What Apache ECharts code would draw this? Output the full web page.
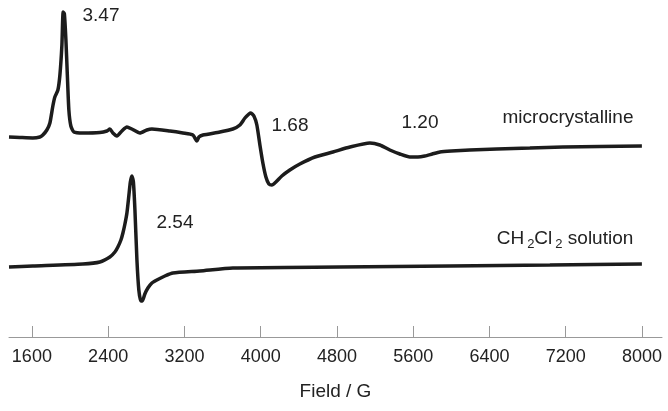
<!DOCTYPE html>
<html>
<head>
<meta charset="utf-8">
<script src="https://cdn.jsdelivr.net/npm/echarts@6/dist/echarts.min.js"></script>
<style>
  html, body { margin: 0; padding: 0; background: #fff; }
  #main { width: 668px; height: 411px; }
</style>
</head>
<body>
<div id="main"></div>
<script>
// field (G) and signal height (arbitrary units above the axis)
var microField = [1360, 1474, 1610, 1684, 1715, 1757, 1789, 1820, 1841, 1873, 1894, 1915, 1928, 1941, 1957, 1972, 1988, 2009, 2041, 2135,
  2313, 2387, 2418, 2450, 2492, 2544, 2597, 2649, 2733, 2806, 2859, 3048, 3184, 3289, 3331, 3352, 3394, 3572, 3708, 3782,
  3835, 3877, 3897, 3929, 3960, 3992, 4023, 4055, 4086, 4118, 4160, 4222, 4306, 4411, 4569, 4758, 4936, 5146, 5250, 5355,
  5460, 5565, 5650, 5722, 5800, 5880, 6000, 6194, 6478, 6824, 7170, 7558, 7999];
var microSignal = [200, 199.5, 199, 200, 202, 207, 214, 231, 240, 247, 262, 292, 325, 323, 297, 262, 227, 211, 205, 204,
  204.5, 206, 208, 204, 201, 206, 210, 208, 204, 207, 208, 206, 204, 202, 196, 200, 202, 205, 208, 212,
  219, 223, 224, 221, 212, 192, 174, 160, 153, 152, 155, 161, 167, 173, 180, 185, 190, 194, 192, 187,
  183, 180, 180, 181, 183, 185, 186, 187, 188, 189, 190, 190.5, 191];

var solField = [1360, 1610, 2135, 2313, 2418, 2471, 2502, 2534, 2555, 2576, 2597, 2618, 2633, 2649, 2665, 2681, 2702, 2722, 2743, 2759,
  2785, 2817, 2859, 2911, 2995, 3079, 3362, 3708, 4831, 5985, 7034, 7999];
var solSignal = [70, 71, 73, 75, 80, 85, 90, 97, 104, 113, 124, 142, 155, 161, 155, 127, 77, 47, 36, 36,
  43, 49, 54, 57, 61, 64, 66, 69, 70, 71, 72, 73];

var fieldTicks = [1600, 2400, 3200, 4000, 4800, 5600, 6400, 7200, 8000];

function pairs(xs, ys) {
  var out = [];
  for (var i = 0; i < xs.length; i++) out.push([xs[i], ys[i]]);
  return out;
}

var FONT = 'Liberation Sans, Arial, sans-serif';
var chart = echarts.init(document.getElementById('main'));
var txt = { fill: '#222', fontFamily: FONT, fontSize: 19, align: 'center', verticalAlign: 'middle' };
function label(x, y, s) {
  return { type: 'text', x: x, y: y, style: Object.assign({ text: s }, txt) };
}

var option = {
  animation: false,
  backgroundColor: '#fff',
  grid: { left: 9, right: 6, top: 0, bottom: 74 },
  xAxis: {
    type: 'value',
    min: 1360,
    max: 8210,
    splitLine: { show: false },
    axisLine: { lineStyle: { color: '#999', width: 1 } },
    axisTick: { inside: true, length: 11, customValues: fieldTicks, lineStyle: { color: '#999' } },
    axisLabel: {
      customValues: fieldTicks, margin: 11, color: '#222', fontSize: 18, fontFamily: FONT,
      formatter: function (v) { return String(v); }
    },
    name: 'Field / G',
    nameLocation: 'middle',
    nameGap: 45,
    nameTextStyle: { color: '#222', fontSize: 19, fontFamily: FONT }
  },
  yAxis: { type: 'value', min: 0, max: 337, show: false },
  series: [
    {
      name: 'microcrystalline', type: 'line', data: pairs(microField, microSignal),
      showSymbol: false, smooth: 0.2, lineStyle: { color: '#1c1c1c', width: 3.5 }
    },
    {
      name: 'CH2Cl2 solution', type: 'line', data: pairs(solField, solSignal),
      showSymbol: false, smooth: 0.2, lineStyle: { color: '#1c1c1c', width: 3.5 }
    }
  ],
  graphic: [
    label(101, 16, '3.47'),
    label(290, 126, '1.68'),
    label(420, 123, '1.20'),
    label(568, 118, 'microcrystalline'),
    label(175, 223, '2.54'),
    {
      type: 'text', x: 565, y: 239,
      style: {
        text: '{a|CH}{s|2}{a|Cl}{s|2}{a| solution}',
        align: 'center', verticalAlign: 'middle',
        rich: {
          a: { fill: '#222', fontFamily: FONT, fontSize: 19, lineHeight: 24 },
          s: { fill: '#222', fontFamily: FONT, fontSize: 13, lineHeight: 12, verticalAlign: 'bottom', padding: [0, 0, 0, 3] }
        }
      }
    }
  ]
};
chart.setOption(option);
</script>
</body>
</html>
